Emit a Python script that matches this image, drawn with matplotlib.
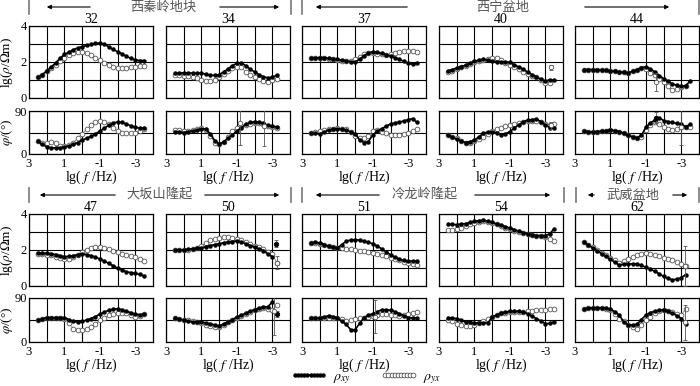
import numpy as np
import matplotlib
matplotlib.use("Agg")
import matplotlib.pyplot as plt
from matplotlib.lines import Line2D
from matplotlib.patches import FancyArrowPatch

plt.rcParams['font.family'] = ['Liberation Serif', 'Noto Sans CJK SC']
plt.rcParams['mathtext.fontset'] = 'stix'

nan = np.nan

# lg(f/Hz) sampling shared by all stations
lgf = [2.5, 2.25, 2.0, 1.75, 1.5, 1.25, 1.0, 0.75, 0.5, 0.25, 0.0, -0.25, -0.5,
       -0.75, -1.0, -1.25, -1.5, -1.75, -2.0, -2.25, -2.5, -2.75, -3.0, -3.25, -3.5]

stations = ['32', '34', '37', '40', '44', '47', '50', '51', '54', '62']

# apparent resistivity lg(rho) and phase, xy (filled) and yx (open)
rxy32 = [1.15, 1.3, 1.5, 1.72, 1.95, 2.2, 2.42, 2.55, 2.68, 2.78, 2.85, 2.92, 2.98, 3.03, 3.05, 2.98, 2.85, 2.7, 2.57, 2.45, 2.32, 2.2, 2.12, 2.08, 2.08]
ryx32 = [1.15, 1.3, 1.48, 1.65, 1.85, 2.05, 2.22, 2.38, 2.5, 2.57, 2.58, 2.52, 2.4, 2.25, 2.1, 1.95, 1.82, 1.73, 1.68, 1.67, 1.68, 1.72, 1.75, 1.78, 1.8]
pxy32 = [27, 20, 15, 13, 13, 13, 15, 17, 20, 24, 29, 33, 37, 42, 48, 54, 60, 65, 67, 66, 63, 59, 56, 54, 55]
pyx32 = [27, 22, 22, 26, 22, 16, 16, 18, 24, 33, 42, 52, 60, 66, 70, 68, 62, 54, 48, 44, 43, 43, 45, 48, 53]

rxy34 = [1.38, 1.38, 1.4, 1.4, 1.38, 1.38, 1.38, 1.32, 1.27, 1.26, 1.3, 1.45, 1.62, 1.8, 1.93, 1.95, 1.8, 1.6, 1.45, 1.3, 1.18, 1.12, 1.15, 1.27, nan]
ryx34 = [1.3, 1.28, 1.25, 1.22, 1.18, 1.1, 1.02, 0.97, 0.95, 1.0, 1.15, 1.35, 1.52, 1.68, 1.75, 1.7, 1.45, 1.3, 1.15, 1.05, 0.95, 0.9, 1.0, 1.05, nan]
pxy34 = [47, 46, 45, 47, 48, 50, 53, 52, 42, 28, 21, 25, 33, 40, 48, 55, 62, 66, 68, 67, 64, 60, 58, 57, nan]
pyx34 = [50, 50, 48, 48, 50, 52, 54, 50, 38, 24, 20, 25, 36, 48, 55, 58, 60, 63, 65, 65, 62, 58, 57, 55, nan]

rxy37 = [2.2, 2.22, 2.25, 2.24, 2.2, 2.17, 2.15, 2.1, 2.06, 2.02, 2.0, 2.15, 2.35, 2.5, 2.58, 2.55, 2.48, 2.4, 2.33, 2.25, 2.15, 2.03, 1.92, 1.88, 1.92]
ryx37 = [2.2, 2.2, 2.22, 2.2, 2.17, 2.14, 2.12, 2.08, 2.03, 2.05, 2.15, 2.3, 2.45, 2.52, 2.52, 2.47, 2.42, 2.4, 2.42, 2.48, 2.55, 2.6, 2.62, 2.62, 2.58]
pxy37 = [44, 43, 42, 46, 50, 52, 53, 52, 50, 46, 42, 30, 24, 26, 40, 48, 53, 58, 63, 65, 67, 69, 72, 74, 66]
pyx37 = [44, 46, 48, 50, 52, 53, 54, 53, 52, 46, 38, 34, 33, 38, 48, 50, 47, 43, 40, 39, 40, 42, 45, 48, 52]

rxy40 = [1.5, 1.58, 1.67, 1.75, 1.82, 1.93, 2.05, 2.1, 2.14, 2.1, 2.05, 2.02, 2.0, 2.0, 1.98, 1.85, 1.73, 1.6, 1.45, 1.3, 1.17, 1.05, 0.93, 1.02, 0.98]
ryx40 = [1.45, 1.52, 1.6, 1.7, 1.8, 1.9, 2.0, 2.05, 2.1, 2.17, 2.22, 2.2, 2.1, 1.97, 1.85, 1.72, 1.6, 1.47, 1.35, 1.25, 1.15, 1.0, 0.85, 0.82, nan]
pxy40 = [40, 35, 31, 27, 24, 26, 29, 36, 43, 46, 47, 44, 40, 42, 47, 54, 61, 67, 71, 72, 73, 68, 61, 55, 54]
pyx40 = [40, 36, 33, 27, 22, 24, 27, 31, 36, 42, 48, 52, 55, 58, 60, 62, 65, 68, 70, 70, 70, 66, 62, 60, 62]

rxy44 = [1.58, 1.58, 1.58, 1.57, 1.55, 1.53, 1.51, 1.48, 1.45, 1.42, 1.4, 1.48, 1.58, 1.68, 1.74, 1.62, 1.45, 1.25, 1.08, 0.92, 0.79, 0.7, 0.64, 0.68, 0.95]
ryx44 = [1.58, 1.58, 1.58, 1.57, 1.55, 1.53, 1.51, 1.48, 1.45, 1.42, 1.4, 1.48, 1.58, 1.65, 1.6, 1.4, 1.26, 1.08, 0.9, 0.65, 0.45, 0.5, 0.6, 0.65, nan]
pxy44 = [48, 47, 46, 47, 48, 49, 50, 49, 47, 43, 39, 36, 34, 39, 56, 65, 71, 76, 70, 68, 66, 64, 63, 57, 62]
pyx44 = [48, 47, 46, 47, 48, 49, 50, 49, 47, 43, 39, 36, 33, 36, 50, 60, 66, 62, 56, 52, 50, 52, 56, 56, 57]

rxy47 = [1.82, 1.82, 1.82, 1.79, 1.75, 1.69, 1.63, 1.65, 1.69, 1.74, 1.78, 1.75, 1.69, 1.6, 1.5, 1.38, 1.26, 1.12, 1.0, 0.9, 0.79, 0.74, 0.71, 0.64, 0.56]
ryx47 = [1.8, 1.77, 1.75, 1.7, 1.62, 1.55, 1.5, 1.52, 1.6, 1.72, 1.88, 2.02, 2.12, 2.15, 2.16, 2.1, 2.03, 1.96, 1.88, 1.8, 1.73, 1.66, 1.6, 1.5, 1.37]
pxy47 = [44, 47, 50, 50, 50, 50, 50, 46, 42, 41, 42, 45, 48, 52, 57, 61, 65, 67, 68, 66, 63, 60, 57, 56, 57]
pyx47 = [44, 47, 50, 50, 50, 50, 48, 38, 27, 24, 24, 27, 31, 37, 44, 50, 55, 57, 59, 59, 59, 55, 51, 53, 58]

rxy50 = [2.01, 2.01, 2.01, 2.04, 2.07, 2.1, 2.12, 2.18, 2.25, 2.3, 2.35, 2.4, 2.44, 2.47, 2.5, 2.44, 2.35, 2.25, 2.16, 2.06, 1.97, 1.78, 1.63, nan, nan]
ryx50 = [2.0, 2.0, 2.0, 2.02, 2.05, 2.12, 2.25, 2.4, 2.53, 2.62, 2.67, 2.7, 2.72, 2.68, 2.63, 2.54, 2.44, 2.35, 2.25, 2.16, 2.07, 1.9, 1.78, 1.3, nan]
pxy50 = [50, 47, 44, 42, 41, 41, 41, 39, 37.5, 35, 33, 37, 41, 46, 51, 55, 59, 63, 66, 69, 72, 72, 82, nan, nan]
pyx50 = [50, 48, 46, 44, 42, 40, 38, 35, 32, 31, 31, 35, 40, 45, 50, 54, 58, 62, 65, 68, 70, 68, 65, 75, nan]

rxy51 = [2.4, 2.42, 2.4, 2.3, 2.21, 2.15, 2.12, 2.3, 2.5, 2.55, 2.58, 2.55, 2.5, 2.43, 2.35, 2.22, 2.06, 1.9, 1.73, 1.6, 1.48, 1.42, 1.38, 1.38, 1.38]
ryx51 = [2.4, 2.38, 2.35, 2.28, 2.2, 2.15, 2.12, 2.1, 2.06, 2.04, 2.02, 1.97, 1.92, 1.88, 1.83, 1.78, 1.73, 1.65, 1.58, 1.5, 1.42, 1.35, 1.29, 1.22, 1.15]
pxy51 = [49, 49, 49, 51, 54, 52, 49, 42, 36, 25, 25, 38, 50, 55, 58, 62, 66, 66, 65, 62, 58, 54, 50, 49, 49]
pyx51 = [49, 49, 49, 50, 50, 50, 50, 47, 43, 44, 47, 49, 50, 52, 54, 56, 58, 57, 56, 55, 54, 56, 58, 60, 61]

rxy54 = [3.43, 3.42, 3.41, 3.44, 3.47, 3.53, 3.6, 3.63, 3.66, 3.6, 3.53, 3.45, 3.37, 3.3, 3.22, 3.13, 3.05, 2.97, 2.9, 2.85, 2.8, 2.8, 2.8, 2.9, 3.18]
ryx54 = [3.09, 3.12, 3.15, 3.25, 3.35, 3.42, 3.5, 3.55, 3.6, 3.55, 3.5, 3.42, 3.33, 3.24, 3.15, 3.06, 2.98, 2.93, 2.88, 2.84, 2.8, 2.76, 2.71, 2.62, 2.52]
pxy54 = [50, 49, 48, 44, 41, 40, 39, 39, 39, 39, 51, 55, 59, 61, 63, 63, 63, 61, 58, 53, 48, 43, 37.5, 38, 41]
pyx54 = [46, 42, 37.5, 34, 32, 33, 34, 38, 42, 47, 52, 56, 59, 60, 61, 61, 61, 62, 63, 64, 65, 65, 66, 67, 68]

rxy62 = [2.43, 2.28, 2.12, 1.96, 1.8, 1.64, 1.48, 1.32, 1.16, 1.2, 1.23, 1.23, 1.23, 1.14, 1.04, 0.93, 0.82, 0.68, 0.53, 0.42, 0.34, 0.38, 0.47, 0.63, nan]
ryx62 = [2.45, 2.3, 2.15, 2.0, 1.85, 1.7, 1.55, 1.42, 1.29, 1.38, 1.48, 1.6, 1.73, 1.8, 1.86, 1.8, 1.73, 1.65, 1.57, 1.5, 1.42, 1.33, 1.23, 1.1, nan]
pxy62 = [68, 69, 70, 70, 70, 69, 67, 62, 55, 41, 35, 35, 36, 46, 55, 60, 63, 65, 66, 63, 59, 54, 48, 37.5, nan]
pyx62 = [68, 69, 70, 70, 70, 68, 66, 57, 48, 42, 34, 30, 27, 34, 44, 52, 59, 63, 65, 63, 61, 58, 55, 68, nan]

# error bars: station, panel, series, lg f, value, error
err_station = ['34', '34', '40', '40', '44', '44', '44', '50', '50', '50', '50', '51', '62', '62']
err_panel = ['phi', 'phi', 'rho', 'phi', 'phi', 'phi', 'rho', 'rho', 'rho', 'phi', 'phi', 'phi', 'rho', 'phi']
err_series = ['yx', 'yx', 'yx', 'yx', 'xy', 'yx', 'yx', 'xy', 'yx', 'xy', 'yx', 'yx', 'yx', 'yx']
err_lgf = [-1.2, -2.55, -3.3, -3.3, -1.6, -3.0, -1.6, -3.2, -3.25, -3.25, -3.1, -1.1, -3.2, -3.2]
err_val = [65, 58, 1.7, 60, 76, 57, 0.9, 2.35, 1.3, 57, 63, 52, 1.1, 40]
err_size = [46, 41, 0.12, 8, 12, 38, 0.5, 0.2, 0.35, 6, 49, 34, 1.1, 35]

regions_top = [('西秦岭地块', 29, 291, 163, (93, 44), (217, 282)),
               ('西宁盆地', 302, 699, 503, (410, 313), (582, 672))]
regions_bot = [('大坂山隆起', 29, 291, 160, (118, 37), (202, 282)),
               ('冷龙岭隆起', 302, 564, 425, (382, 313), (472, 553)),
               ('武威盆地', 576, 699, 633, (597, 585), (670, 690))]

data = {'32': (rxy32, ryx32, pxy32, pyx32), '34': (rxy34, ryx34, pxy34, pyx34),
        '37': (rxy37, ryx37, pxy37, pyx37), '40': (rxy40, ryx40, pxy40, pyx40),
        '44': (rxy44, ryx44, pxy44, pyx44), '47': (rxy47, ryx47, pxy47, pyx47),
        '50': (rxy50, ryx50, pxy50, pyx50), '51': (rxy51, ryx51, pxy51, pyx51),
        '54': (rxy54, ryx54, pxy54, pyx54), '62': (rxy62, ryx62, pxy62, pyx62)}

W, H = 700, 386
fig = plt.figure(figsize=(W / 100, H / 100), dpi=100)


def fx(px):
    return px / W


def fy(py):
    return 1 - py / H


col_left = [29, 166, 302, 439, 575]
pw = 124
rows = [(26, 98, 111, 154), (214, 286, 298, 342)]

xy_style = dict(color='k', marker='o', ms=3.2, mew=0, lw=1.2, zorder=4)
yx_style = dict(color='#777777', marker='o', ms=3.4, mfc='white', mec='#555555', mew=0.6, lw=0.5, zorder=3)


def style_axes(ax, ticks, labels, ylim, show_y):
    ax.set_xlim(3, -4)
    ax.set_ylim(*ylim)
    ax.set_xticks([3, 2, 1, 0, -1, -2, -3])
    ax.set_xticklabels(['3', '', '1', '', '-1', '', '-3'])
    ax.set_yticks(ticks)
    ax.set_yticklabels(labels if show_y else [])
    ax.grid(True, color='k', lw=0.8)
    ax.tick_params(length=0, labelsize=9)
    ax.tick_params(axis='y', pad=1.5)
    ax.tick_params(axis='x', pad=3)
    for s in ax.spines.values():
        s.set_linewidth(0.9)


for i, st in enumerate(stations):
    r, c = divmod(i, 5)
    rt, rb, pt, pb = rows[r]
    left = col_left[c]
    rxy, ryx, pxy, pyx = data[st]

    axr = fig.add_axes([fx(left), fy(rb), pw / W, (rb - rt) / H])
    axp = fig.add_axes([fx(left), fy(pb), pw / W, (pb - pt) / H])

    axr.plot(lgf, ryx, **yx_style)
    axr.plot(lgf, rxy, **xy_style)
    axp.plot(lgf, pyx, **yx_style)
    axp.plot(lgf, pxy, **xy_style)

    style_axes(axr, [0, 1, 2, 3, 4], ['0', '', '2', '', '4'], (0, 4), c == 0)
    style_axes(axp, [0, 45, 90], ['0', '', '90'], (0, 90), c == 0)
    axr.set_xticklabels([])
    axp.set_xlabel(r'lg( $f$ /Hz)', fontsize=10, labelpad=-1)
    axr.set_title(st, fontsize=10, pad=0)
    if c == 0:
        axr.set_ylabel(r'lg($\rho$/$\Omega$m)', fontsize=9.5)
        axr.yaxis.set_label_coords(-0.115, 0.5)
        axp.set_ylabel(r'$\varphi$/(°)', fontsize=9.5)
        axp.yaxis.set_label_coords(-0.115, 0.5)

    for s, pn, se, x, v, e in zip(err_station, err_panel, err_series, err_lgf, err_val, err_size):
        if s != st:
            continue
        ax = axr if pn == 'rho' else axp
        filled = se == 'xy'
        ax.errorbar([x], [v], yerr=[e], fmt='o', ms=3.2,
                    mfc='k' if filled else 'white', mec='k' if filled else '#555555',
                    mew=0.6, ecolor='#555555', elinewidth=0.6, capsize=1.5, zorder=5)

# region labels with arrows and bars
for regions, ytxt in [(regions_top, 7), (regions_bot, 195)]:
    for name, b0, b1, xc, la, ra in regions:
        fig.text(fx(xc), fy(ytxt), name, ha='center', va='center', fontsize=9.5,
                 color='#555555', family=['Noto Sans CJK SC', 'DejaVu Sans'])
        for bx in (b0, b1):
            fig.add_artist(Line2D([fx(bx), fx(bx)], [fy(ytxt - 7), fy(ytxt + 7)],
                                  color='#777777', lw=1.2))
        for a in (la, ra):
            fig.add_artist(FancyArrowPatch((fx(a[0]), fy(ytxt)), (fx(a[1]), fy(ytxt)),
                                           transform=fig.transFigure, arrowstyle='-|>',
                                           mutation_scale=6, lw=0.8, color='k'))

handles = [Line2D([], [], **{k: v for k, v in xy_style.items() if k != 'zorder'}),
           Line2D([], [], **{k: v for k, v in yx_style.items() if k != 'zorder'})]
fig.legend(handles, [r'$\rho_{xy}$', r'$\rho_{yx}$'], loc='center',
           bbox_to_anchor=(fx(366), fy(378)), ncol=2, frameon=False, numpoints=10,
           handlelength=2.6, columnspacing=2.2, handletextpad=0.4, fontsize=10,
           borderpad=0.1)

fig.savefig('out.png', dpi=100)
